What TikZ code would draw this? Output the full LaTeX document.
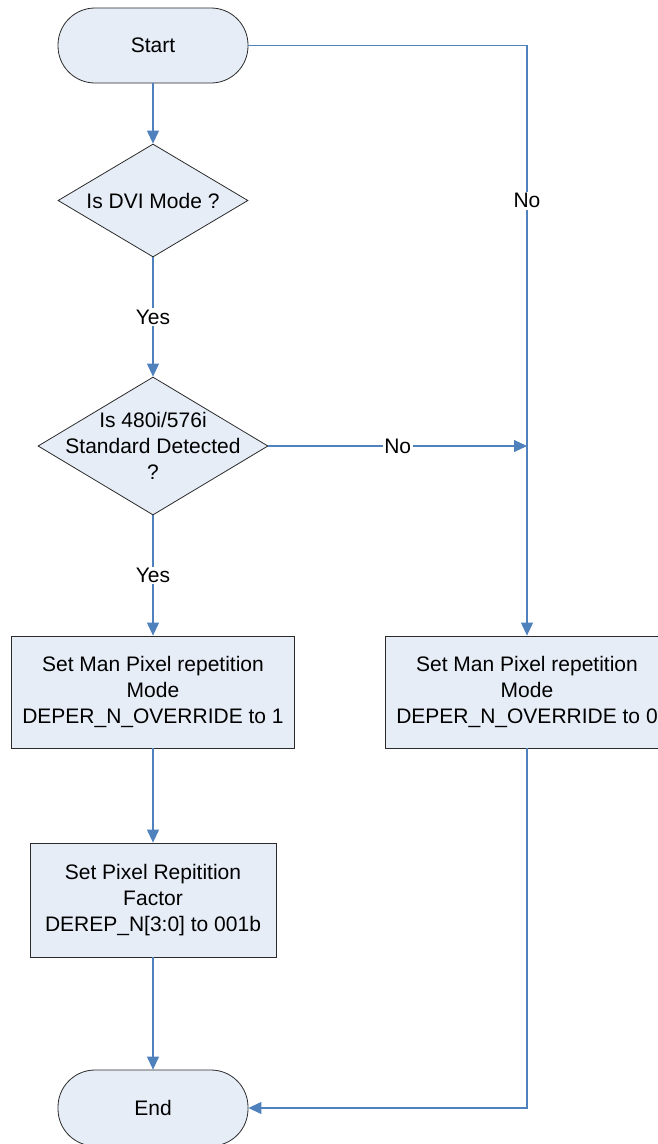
\documentclass[tikz,border=0pt]{standalone}
\usepackage{fontspec}
\setmainfont{Liberation Sans}
\usetikzlibrary{shapes.geometric,arrows.meta}

\definecolor{boxfill}{HTML}{E6EDF7}
\definecolor{linkblue}{HTML}{4F81BD}
\definecolor{outline}{HTML}{2B2B2B}

\begin{document}
\begin{tikzpicture}[x=1pt,y=-1pt,
  font=\fontsize{21}{26}\selectfont,
  shapebase/.style={draw=outline, fill=boxfill, line width=0.8pt, align=center, inner sep=0pt},
  terminal/.style={shapebase, rectangle, rounded corners=37pt,
                   minimum width=190pt, minimum height=75pt},
  decision/.style={shapebase, diamond},
  process/.style={shapebase, rectangle},
  link/.style={draw=linkblue, line width=1.1pt, -{Triangle[length=13pt,width=12pt]}},
  plainlink/.style={draw=linkblue, line width=1.1pt},
  tag/.style={fill=white, inner sep=1.5pt, font=\fontsize{21}{26}\selectfont}]

\useasboundingbox (0,0) rectangle (658,1144);

% flow nodes
\node[terminal] (start) at (153,45.5) {Start};
\node[decision, minimum width=190pt, minimum height=113pt,
      label={[align=center]center:Is DVI Mode ?}] (dvi) at (153,200.5) {};
\node[decision, minimum width=230pt, minimum height=138pt,
      label={[align=center]center:Is 480i/576i\\Standard Detected\\?}] (std) at (153,446) {};
\node[process, minimum width=283pt, minimum height=112pt] (manone) at (153,692)
  {Set Man Pixel repetition\\Mode\\DEPER\_N\_OVERRIDE to 1};
\node[process, minimum width=284pt, minimum height=112pt] (manzero) at (527,692)
  {Set Man Pixel repetition\\Mode\\DEPER\_N\_OVERRIDE to 0};
\node[process, minimum width=246pt, minimum height=114pt] (factor) at (153,900)
  {Set Pixel Repitition\\Factor\\DEREP\_N[3:0] to 001b};
\node[terminal, minimum height=76pt] (stop) at (153,1108) {End};

% routing points on the right-hand branch
\coordinate (topright) at (527,45.5);
\coordinate (merge) at (527,446);
\coordinate (botright) at (527,1108);

% connectors
\draw[link] (start) -- (dvi);
\draw[link] (dvi) -- node[tag] (yesone) {Yes} (std);
\draw[link] (std) -- node[tag] (yestwo) {Yes} (manone);
\draw[link] (std.east) -- node[tag] (noone) {No} (merge);
\draw[link] (start.east) -- (topright) -- node[tag, pos=0.263] (notwo) {No} (manzero.north);
\draw[link] (manone) -- (factor);
\draw[link] (factor) -- (stop);
\draw[link] (manzero.south) -- (botright) -- (stop.east);

\end{tikzpicture}
\end{document}
